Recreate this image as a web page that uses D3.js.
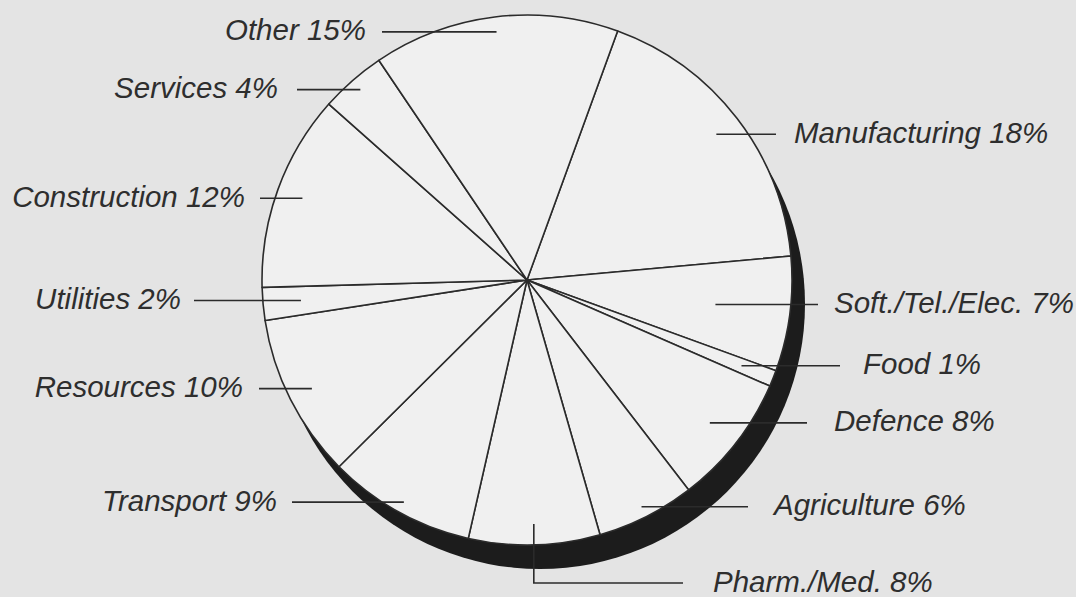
<!DOCTYPE html>
<html>
<head>
  <meta charset="utf-8">
  <title>Pie chart - sectors</title>
  <style>
    body { margin: 0; background: #e4e4e4; }
    text { font-family: "Liberation Sans", Arial, sans-serif; font-style: italic; fill: #2e2e2e; }
  </style>
</head>
<body>
  <svg width="1076" height="597"></svg>
  <script src="https://d3js.org/d3.v7.min.js"></script>
  <script>

  // data, clockwise from the top-right
  var sectors = ["Manufacturing", "Soft./Tel./Elec.", "Food", "Defence", "Agriculture", "Pharm./Med.",
                 "Transport", "Resources", "Utilities", "Construction", "Services", "Other"];
  var shares = [18, 7, 1, 8, 6, 8, 9, 10, 2, 12, 4, 15];

  // label layout: radius of the leader line's inner end, line end x, text x
  var leaderR   = [239, 190, 231, 232, 254, 244, 254, 241, 227, 239, 253, 250];
  var leaderEnd = [776, 818, 840, 807, 748, 683, 292, 259, 194, 260, 297, 382];
  var labelX    = [794, 834, 863, 834, 774, 713, 277, 243, 181, 245, 278, 366];

  var width = 1076, height = 597;
  var cx = 527, cy = 280, R = 265;
  var a0 = 20 * Math.PI / 180;

  var svg = d3.select("svg");
  svg.append("rect").attr("width", width).attr("height", height).attr("fill", "#e4e4e4");

  var pie = d3.pie().sort(null).startAngle(a0).endAngle(a0 + 2 * Math.PI);
  var arcs = pie(shares);
  var arc = d3.arc().innerRadius(0).outerRadius(R);

  var g = svg.append("g").attr("transform", "translate(" + cx + "," + cy + ")");

  // drop shadow
  g.append("circle").attr("cx", 13).attr("cy", 24).attr("r", R).attr("fill", "#1c1c1c");

  g.selectAll(".slice")
    .data(arcs)
    .enter()
    .append("path")
    .attr("class", "slice")
    .attr("d", arc)
    .attr("fill", "#f0f0f0")
    .attr("stroke", "#2b2b2b")
    .attr("stroke-width", 1.6)
    .attr("stroke-linejoin", "round");

  // leader lines + labels
  arcs.forEach(function(d, i) {
    var mid = (d.startAngle + d.endAngle) / 2;
    var x1 = cx + leaderR[i] * Math.sin(mid);
    var y1 = cy - leaderR[i] * Math.cos(mid);
    var right = leaderEnd[i] > x1;
    var ly = y1, pts;
    if (sectors[i] == "Pharm./Med.") {
      ly = 583;
      pts = [[x1, y1], [x1, ly], [leaderEnd[i], ly]];
    } else {
      pts = [[x1, y1], [leaderEnd[i], y1]];
    }
    svg.append("path")
      .attr("d", d3.line()(pts))
      .attr("fill", "none")
      .attr("stroke", "#2b2b2b")
      .attr("stroke-width", 1.6);
    svg.append("text")
      .attr("x", labelX[i])
      .attr("y", ly + 8.5)
      .attr("text-anchor", right ? "start" : "end")
      .attr("font-size", "29.5px")
      .text(sectors[i] + " " + shares[i] + "%");
  });

  </script>
</body>
</html>
